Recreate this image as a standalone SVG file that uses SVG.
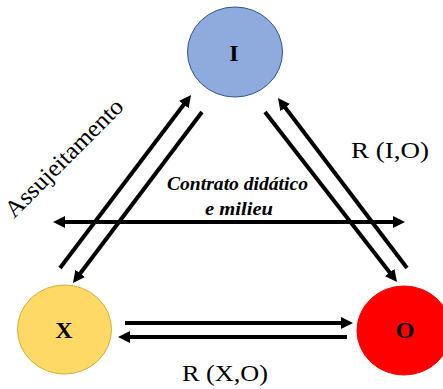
<svg xmlns="http://www.w3.org/2000/svg" width="443" height="389" viewBox="0 0 443 389">
<style>
.lbl{font-family:"Liberation Serif","Times New Roman",serif;fill:#000}
.node text{font-family:"Liberation Serif","Times New Roman",serif;font-weight:bold;font-size:24px;text-anchor:middle}
.arr{stroke:#000;stroke-width:4;fill:none;marker-end:url(#ah)}
</style>
<defs>
<marker id="ah" markerUnits="userSpaceOnUse" markerWidth="13" markerHeight="12" refX="1" refY="6" orient="auto-start-reverse" viewBox="0 0 13 12">
<path d="M0,0 L12,6 L0,12 z" fill="#000"/>
</marker>
</defs>
<rect width="443" height="389" fill="#fff"/>
<g id="node-I" class="node">
<ellipse cx="235" cy="52" rx="47.5" ry="45" fill="#8FAADC" stroke="#2F5597" stroke-width="1"/>
<text x="234" y="61">I</text>
</g>
<g id="node-X" class="node">
<ellipse cx="64.5" cy="329.5" rx="47" ry="44.5" fill="#FFD966" stroke="#D6AE3A" stroke-width="1"/>
<text x="64" y="338">X</text>
</g>
<g id="node-O" class="node">
<ellipse cx="404" cy="330.5" rx="47" ry="44.5" fill="#FF0000" stroke="#FF0000" stroke-width="1"/>
<text x="405" y="338">O</text>
</g>
<g id="connectors">
<line class="arr" x1="60" y1="268" x2="184.4" y2="103.8"/>
<line class="arr" x1="202" y1="112" x2="79.6" y2="274.2"/>
<line class="arr" x1="407" y1="268" x2="284.6" y2="106.8"/>
<line class="arr" x1="265" y1="112" x2="390.3" y2="273.3"/>
<line class="arr" x1="64" y1="222" x2="394" y2="222" style="marker-start:url(#ah)"/>
<line class="arr" x1="125" y1="323" x2="342" y2="323"/>
<line class="arr" x1="347" y1="337" x2="129" y2="337"/>
</g>
<g id="labels">
<text class="lbl" x="14" y="219" font-size="24" transform="rotate(-45 14 219)" textLength="157" lengthAdjust="spacingAndGlyphs">Assujeitamento</text>
<text class="lbl" x="167" y="190" font-size="18" font-weight="bold" font-style="italic" textLength="141" lengthAdjust="spacingAndGlyphs">Contrato didático</text>
<text class="lbl" x="205" y="215" font-size="18" font-weight="bold" font-style="italic" textLength="68" lengthAdjust="spacingAndGlyphs">e milieu</text>
<text class="lbl" x="351" y="158" font-size="23" textLength="78" lengthAdjust="spacingAndGlyphs">R (I,O)</text>
<text class="lbl" x="182" y="381" font-size="23" textLength="86" lengthAdjust="spacingAndGlyphs">R (X,O)</text>
</g>
</svg>
